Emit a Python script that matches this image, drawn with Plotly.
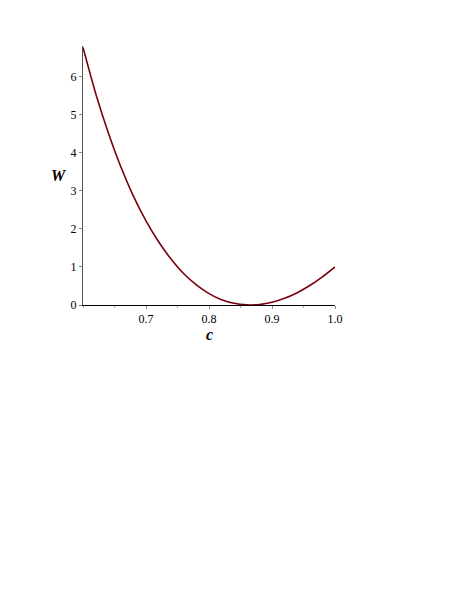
import plotly.graph_objects as go

# values
c_vals = [0.60, 0.62, 0.64, 0.66, 0.68, 0.70, 0.72, 0.74, 0.76, 0.78, 0.80,
          0.82, 0.84, 0.86, 0.866, 0.88, 0.90, 0.92, 0.94, 0.96, 0.98, 1.00]
w_vals = [6.76, 5.56, 4.53, 3.63, 2.86, 2.21, 1.66, 1.20, 0.82, 0.53, 0.30,
          0.14, 0.045, 0.002, 0.0, 0.012, 0.071, 0.176, 0.323, 0.511, 0.738, 1.00]

x_ticks = [0.7, 0.8, 0.9, 1.0]
y_ticks = [0, 1, 2, 3, 4, 5, 6]

font_serif = "Liberation Serif, Times New Roman, serif"

# page has an 8px body margin, so margins are shifted by that
W, H, OFF = 463, 599, 8
L, R, T, B = 75, 136, 38, 302
pw, ph = W - L - R, H - T - B


def page_to_paper(px, py):
    return (px - OFF - L) / pw, (H - (py - OFF) - B) / ph


fig = go.Figure()
fig.add_trace(go.Scatter(x=c_vals, y=w_vals, mode="lines",
                         line=dict(color="#78000E", width=1.6, shape="spline", smoothing=0.6),
                         showlegend=False, hoverinfo="skip"))

cx, cy = page_to_paper(209, 334)
wx, wy = page_to_paper(59, 175)

fig.update_layout(
    width=W, height=H,
    margin=dict(l=L, r=R, t=T, b=B),
    paper_bgcolor="white", plot_bgcolor="white",
    font=dict(family=font_serif, size=12, color="black"),
    xaxis=dict(range=[0.6, 1.0], tickvals=x_ticks, tickformat=".1f",
               showline=True, linecolor="black", linewidth=1,
               ticks="outside", ticklen=3, tickcolor="#888",
               minor=dict(tickvals=[0.6, 0.65, 0.75, 0.85, 0.95], ticks="outside", ticklen=2, tickcolor="#aaa"),
               showgrid=False, zeroline=False, fixedrange=True),
    yaxis=dict(range=[0, 6.8], tickvals=y_ticks,
               showline=True, linecolor="#555", linewidth=1,
               ticks="outside", ticklen=3, tickcolor="#888",
               showgrid=False, zeroline=False, fixedrange=True),
    annotations=[
        dict(text="<b><i>c</i></b>", x=cx, y=cy, xref="paper", yref="paper",
             xanchor="center", yanchor="middle",
             showarrow=False, font=dict(family=font_serif, size=16)),
        dict(text="<b><i>W</i></b>", x=wx, y=wy, xref="paper", yref="paper",
             xanchor="center", yanchor="middle",
             showarrow=False, font=dict(family=font_serif, size=16)),
    ],
)

fig.write_html("out.html")
